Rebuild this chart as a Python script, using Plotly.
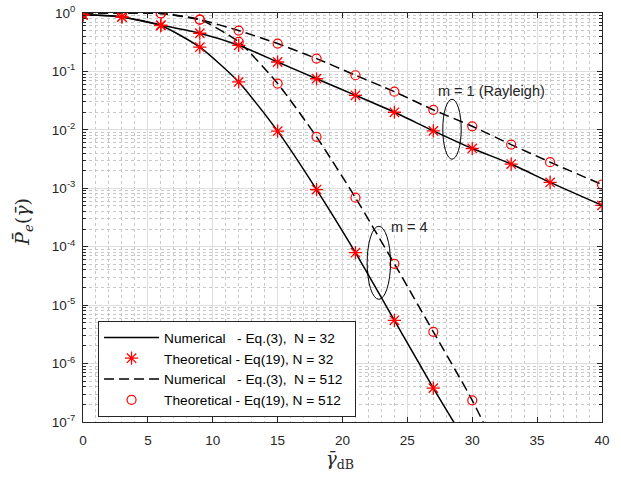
import plotly.graph_objects as go

# ---------------- data ----------------
snr_db = [0, 3, 6, 9, 12, 15, 18, 21, 24, 27, 30, 33, 36, 40]

# m = 1 (Rayleigh)
theo_m1_n32 = [0.93, 0.855, 0.62, 0.45, 0.28, 0.145, 0.075, 0.039, 0.020, 0.0096, 0.0048, 0.0026, 0.00126, 0.00051]
theo_m1_n512 = [1.0, 1.0, 0.98, 0.77, 0.50, 0.30, 0.166, 0.086, 0.045, 0.022, 0.0115, 0.0056, 0.0028, 0.00116]

# m = 4
snr_m4_n32 = [0, 3, 6, 9, 12, 15, 18, 21, 24, 27]
theo_m4_n32 = [0.93, 0.855, 0.61, 0.26, 0.066, 0.0095, 0.00095, 7.9e-5, 5.5e-6, 3.8e-7]
snr_m4_n512 = [0, 3, 6, 9, 12, 15, 18, 21, 24, 27, 30]
theo_m4_n512 = [1.0, 1.0, 0.98, 0.77, 0.32, 0.062, 0.0076, 6.9e-4, 5.1e-5, 3.5e-6, 2.35e-7]

# numerical curves (same points, continuing below the axis floor)
num_snr_m4_n32 = snr_m4_n32 + [30]
num_m4_n32 = theo_m4_n32 + [3e-8]
num_snr_m4_n512 = snr_m4_n512 + [33]
num_m4_n512 = theo_m4_n512 + [1e-8]

y_exponents = [0, -1, -2, -3, -4, -5, -6, -7]
x_ticks = [0, 5, 10, 15, 20, 25, 30, 35, 40]

legend_names = [
    "Numerical\u00a0\u00a0\u00a0- Eq.(3),\u00a0\u00a0N = 32",
    "Theoretical - Eq(19), N = 32",
    "Numerical\u00a0\u00a0\u00a0- Eq.(3),\u00a0\u00a0N = 512\u00a0\u00a0",
    "Theoretical - Eq(19), N = 512\u00a0\u00a0",
]

# ---------------- figure ----------------
X_RANGE = (0, 40)
Y_RANGE = (-7, 0)

def px(x):
    return (x - X_RANGE[0]) / (X_RANGE[1] - X_RANGE[0])

def py(logv):
    return (logv - Y_RANGE[0]) / (Y_RANGE[1] - Y_RANGE[0])

fig = go.Figure()
line_solid = dict(color="black", width=1.5, shape="spline", smoothing=0.6)
line_dash = dict(color="black", width=1.5, dash="10px,5px", shape="spline", smoothing=0.6)
star = dict(symbol="asterisk-open", size=11, color="red", line=dict(color="red", width=1.3))
circ = dict(symbol="circle-open", size=9, color="red", line=dict(color="red", width=1.2))

# N=32 numerical (solid)
fig.add_trace(go.Scatter(x=snr_db, y=theo_m1_n32, mode="lines", line=line_solid,
                         name=legend_names[0], showlegend=True))
fig.add_trace(go.Scatter(x=num_snr_m4_n32, y=num_m4_n32, mode="lines", line=line_solid,
                         showlegend=False))
# N=512 numerical (dashed)
fig.add_trace(go.Scatter(x=snr_db, y=theo_m1_n512, mode="lines", line=line_dash,
                         showlegend=False))
fig.add_trace(go.Scatter(x=num_snr_m4_n512, y=num_m4_n512, mode="lines", line=line_dash,
                         showlegend=False))
# theoretical markers
fig.add_trace(go.Scatter(x=snr_db, y=theo_m1_n32, mode="markers", marker=star,
                         name=legend_names[1], showlegend=True))
fig.add_trace(go.Scatter(x=snr_m4_n32, y=theo_m4_n32, mode="markers", marker=star,
                         showlegend=False))
fig.add_trace(go.Scatter(x=snr_db, y=theo_m1_n512, mode="markers", marker=circ,
                         showlegend=False))
fig.add_trace(go.Scatter(x=snr_m4_n512, y=theo_m4_n512, mode="markers", marker=circ,
                         showlegend=False))
# legend entries for the N=512 series in 3rd and 4th position
fig.add_trace(go.Scatter(x=[None], y=[None], mode="lines", line=line_dash,
                         name=legend_names[2], showlegend=True))
fig.add_trace(go.Scatter(x=[None], y=[None], mode="markers", marker=circ,
                         name=legend_names[3], showlegend=True))

axis_col = "#262626"
grid_col = "#dedede"
minor_col = "#c8c8c8"
tick_font = dict(family="Liberation Sans, Arial, sans-serif", size=13.5, color=axis_col)

fig.update_xaxes(
    range=list(X_RANGE), tickvals=x_ticks, ticktext=[str(v) for v in x_ticks],
    showline=True, linecolor=axis_col, linewidth=1, mirror="allticks",
    ticks="inside", ticklen=5, tickcolor=axis_col, tickfont=tick_font,
    ticklabelstandoff=6, ticklabeloverflow="allow",
    showgrid=True, gridcolor=grid_col, gridwidth=1, zeroline=False, automargin=False,
    minor=dict(dtick=1, showgrid=True, griddash="dot", gridcolor=minor_col, gridwidth=1, ticks=""),
)
fig.update_yaxes(
    type="log", range=list(Y_RANGE),
    tickvals=[10 ** e for e in y_exponents],
    ticktext=["10<sup>%d</sup>" % e for e in y_exponents],
    showline=True, linecolor=axis_col, linewidth=1, mirror="allticks",
    ticks="inside", ticklen=5, tickcolor=axis_col, tickfont=tick_font,
    ticklabelstandoff=4, ticklabeloverflow="allow",
    showgrid=True, gridcolor=grid_col, gridwidth=1, zeroline=False, automargin=False,
    minor=dict(dtick="D1", showgrid=True, griddash="dot", gridcolor=minor_col, gridwidth=1,
               ticks="inside", ticklen=3, tickcolor=axis_col),
)

# ellipses and labels
ell = [
    (27.73, 29.15, -1.476, -2.502),
    (21.9, 23.7, -3.65, -4.90),
]
for x0, x1, ly0, ly1 in ell:
    fig.add_shape(type="circle", xref="paper", yref="paper",
                  x0=px(x0), x1=px(x1), y0=py(ly1), y1=py(ly0),
                  line=dict(color="black", width=1))

lab_font = dict(family="Liberation Sans, Arial, sans-serif", size=14.5, color=axis_col)
fig.add_annotation(xref="paper", yref="paper", x=px(31.5), y=py(-1.334), text="m = 1 (Rayleigh)",
                   xanchor="center", yanchor="middle", showarrow=False, font=lab_font)
fig.add_annotation(xref="paper", yref="paper", x=px(25.2), y=py(-3.66), text="m = 4",
                   xanchor="center", yanchor="middle", showarrow=False, font=lab_font)

# axis titles
serif = "DejaVu Serif, Liberation Serif, serif"
fig.add_annotation(xref="paper", yref="paper", x=0.495, y=-0.093, xanchor="center", yanchor="middle",
                   text="<i>\u03b3\u0304</i><sub>dB</sub>", showarrow=False,
                   font=dict(family=serif, size=18, color=axis_col))
fig.add_annotation(xref="paper", yref="paper", x=-0.115, y=0.49, xanchor="center", yanchor="middle",
                   textangle=-90,
                   text="<i>P\u0304</i><sub><i>e</i></sub>(<i>\u03b3\u0304</i>)", showarrow=False,
                   font=dict(family=serif, size=19, color=axis_col))

fig.update_layout(
    width=621, height=477,
    margin=dict(l=83, r=19, t=13, b=55),
    paper_bgcolor="white", plot_bgcolor="white",
    showlegend=True,
    legend=dict(x=0.029, y=0.247, xanchor="left", yanchor="top",
                bgcolor="white", bordercolor=axis_col, borderwidth=1,
                font=dict(family="Liberation Sans, Arial, sans-serif", size=13.7, color="black"),
                tracegroupgap=0, itemwidth=55),
)

# remove the default 8px page margin so the figure sits at the window's top-left corner
fig.write_html("out.html", config={"displayModeBar": False},
               post_script="document.body.style.margin='0px';document.body.style.overflow='hidden';")
